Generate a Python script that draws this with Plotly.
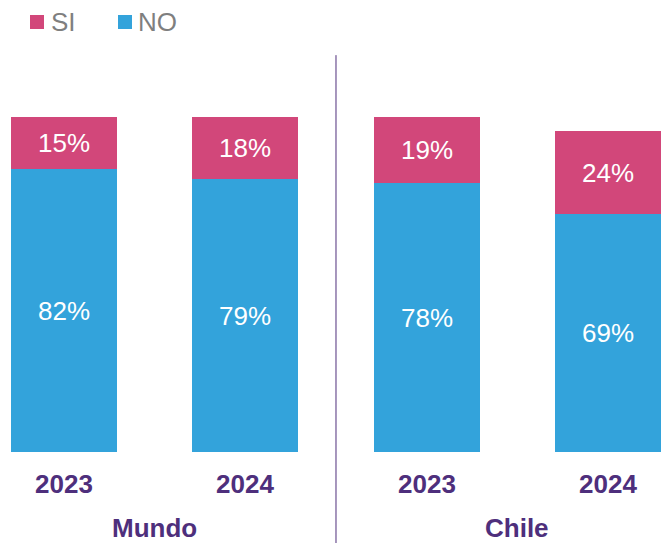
import plotly.graph_objects as go

years = ["2023", "2024", "2023", "2024"]
groups = ["Mundo", "Chile"]
series = ["SI", "NO"]
si_values = [15, 18, 19, 24]
no_values = [82, 79, 78, 69]

PINK = "#D2477A"
BLUE = "#33A3DB"
PURPLE = "#4E2F7C"
GREY = "#7F7F7F"
colors = {"SI": PINK, "NO": BLUE}

xpos = list(range(len(years)))

fig = go.Figure()

for name, vals in [("NO", no_values), ("SI", si_values)]:
    fig.add_trace(
        go.Bar(
            x=xpos,
            y=vals,
            name=name,
            marker=dict(color=colors[name], line=dict(width=0)),
            text=[f"{v}%" for v in vals],
            textposition="inside",
            insidetextanchor="middle",
            textangle=0,
            textfont=dict(color="white", size=26),
            width=0.585,
            showlegend=False,
        )
    )

# year labels under each bar
for x, yr in zip(xpos, years):
    fig.add_annotation(
        x=x, y=0, xref="x", yref="paper",
        text=f"<b>{yr}</b>", showarrow=False,
        yanchor="middle", yshift=-32,
        font=dict(size=26, color=PURPLE),
    )

# group labels
for i, g in enumerate(groups):
    fig.add_annotation(
        x=2 * i + 0.5, y=0, xref="x", yref="paper",
        text=f"<b>{g}</b>", showarrow=False,
        yanchor="middle", yshift=-76,
        font=dict(size=26, color=PURPLE),
    )

# divider between groups
fig.add_shape(
    type="line", xref="x", yref="paper",
    x0=1.5, x1=1.5, y0=0.878, y1=-0.21,
    line=dict(color=PURPLE, width=1),
)

# legend drawn by hand (square swatch + label)
legend_x = [0.0454, 0.1785]
for lx, name in zip(legend_x, series):
    fig.add_shape(
        type="rect", xref="paper", yref="paper",
        x0=lx, x1=lx + 0.0212, y0=0.9358, y1=0.9668,
        fillcolor=colors[name], line=dict(width=0),
    )
    fig.add_annotation(
        x=lx + 0.0280, y=0.9513, xref="paper", yref="paper",
        text=name, showarrow=False,
        xanchor="left", yanchor="middle",
        font=dict(size=26, color=GREY),
    )

fig.update_layout(
    barmode="stack",
    width=661,
    height=543,
    margin=dict(l=0, r=0, t=0, b=91),
    plot_bgcolor="white",
    paper_bgcolor="white",
    font=dict(family="Liberation Sans, Arial, sans-serif"),
    bargap=0,
)

fig.update_xaxes(range=[-0.3529, 3.2923], visible=False)
fig.update_yaxes(range=[0, 131], visible=False)

# drop the default page margin so the figure fills the window exactly
fig.write_html(
    "out.html",
    config={"displayModeBar": False},
    post_script="document.body.style.margin = '0';",
)
